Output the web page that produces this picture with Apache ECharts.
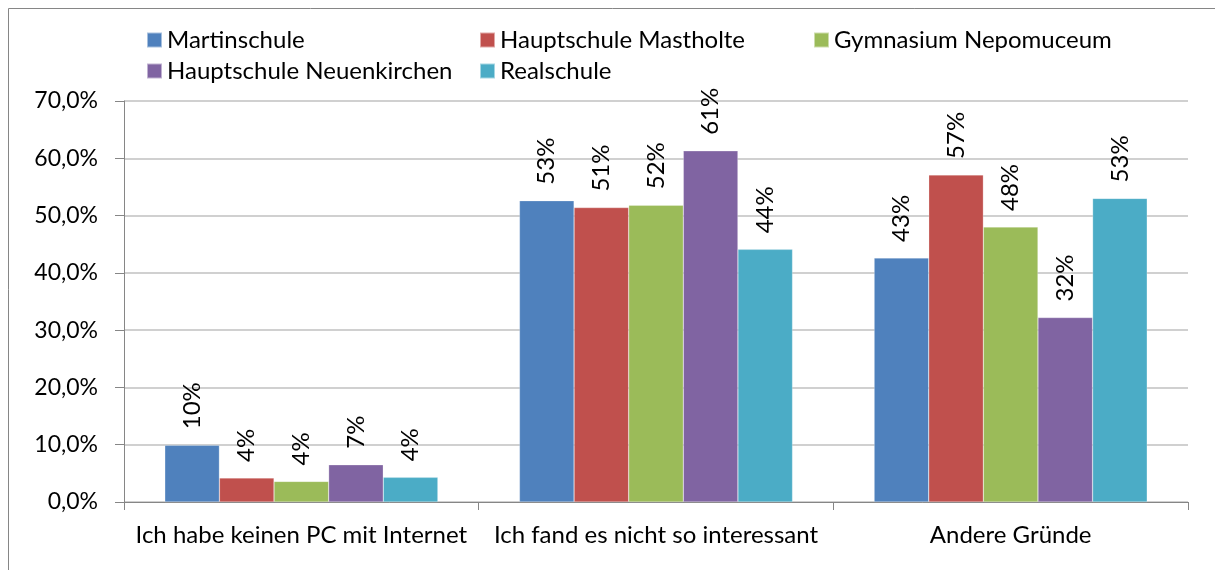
<!DOCTYPE html>
<html><head><meta charset="utf-8">
<script src="https://cdn.jsdelivr.net/npm/echarts@6/dist/echarts.min.js"></script>
<style>html,body{margin:0;padding:0;background:#fff}#c{width:1215px;height:570px}</style>
</head><body><div id="c"></div>
<script>
const categories = ["Ich habe keinen PC mit Internet", "Ich fand es nicht so interessant", "Andere Gründe"];
const seriesNames = ["Martinschule", "Hauptschule Mastholte", "Gymnasium Nepomuceum", "Hauptschule Neuenkirchen", "Realschule"];
const martinschule = [9.9, 52.6, 42.6];
const mastholte = [4.2, 51.4, 57.1];
const gymnasium = [3.6, 51.8, 48.0];
const neuenkirchen = [6.5, 61.3, 32.2];
const realschule = [4.3, 44.1, 53.0];
const yTicks = [0, 10, 20, 30, 40, 50, 60, 70];

const values = [martinschule, mastholte, gymnasium, neuenkirchen, realschule];
const colors = ["#4F81BD", "#C0504D", "#9BBB59", "#8064A2", "#4BACC6"];
const FONT = "Lato";

const chart = echarts.init(document.getElementById('c'));
const legendBase = {
  orient: 'vertical', top: 23, itemWidth: 15, itemHeight: 15, icon: 'rect', itemGap: 7,
  textStyle: { fontFamily: FONT, fontSize: 24, color: '#000', lineHeight: 24 },
  selectedMode: false
};
chart.setOption({
  animation: false,
  backgroundColor: '#fff',
  graphic: [{ type: 'rect', shape: { x: 8.5, y: 8.5, width: 1230, height: 620 }, style: { fill: 'none', stroke: '#868686', lineWidth: 1 }, silent: true, z: -1 }],
  legend: [
    Object.assign({}, legendBase, { left: 141, data: [seriesNames[0], seriesNames[3]] }),
    Object.assign({}, legendBase, { left: 474, data: [seriesNames[1], seriesNames[4]] }),
    Object.assign({}, legendBase, { left: 808, data: [seriesNames[2]] })
  ],
  grid: { left: 124, right: 27, top: 101, bottom: 68 },
  xAxis: {
    type: 'category', data: categories,
    axisLine: { lineStyle: { color: '#868686', width: 1 } },
    axisTick: { show: true, length: 8, lineStyle: { color: '#868686' } },
    axisLabel: { fontFamily: FONT, fontSize: 24, color: '#000', margin: 21, interval: 0 }
  },
  yAxis: {
    type: 'value', min: yTicks[0], max: yTicks[yTicks.length - 1], interval: 10,
    axisLine: { show: true, lineStyle: { color: '#868686', width: 1 } },
    axisTick: { show: true, length: 9, lineStyle: { color: '#868686' } },
    splitLine: { lineStyle: { color: '#c0c0c0', width: 1.5 } },
    axisLabel: { fontFamily: FONT, fontSize: 23, color: '#000', margin: 26,
      formatter: v => v.toFixed(1).replace('.', ',') + '%' }
  },
  series: seriesNames.map((n, i) => ({
    name: n, type: 'bar', data: values[i], barGap: '0%', barCategoryGap: '23%',
    itemStyle: { color: colors[i], borderColor: 'rgba(255,255,255,0.5)', borderWidth: 0.5 },
    label: { show: true, position: 'top', rotate: 90, align: 'left', verticalAlign: 'middle', distance: 16,
      fontFamily: FONT, fontSize: 24, color: '#000', formatter: p => Math.round(p.value) + '%' }
  }))
});
</script></body></html>
